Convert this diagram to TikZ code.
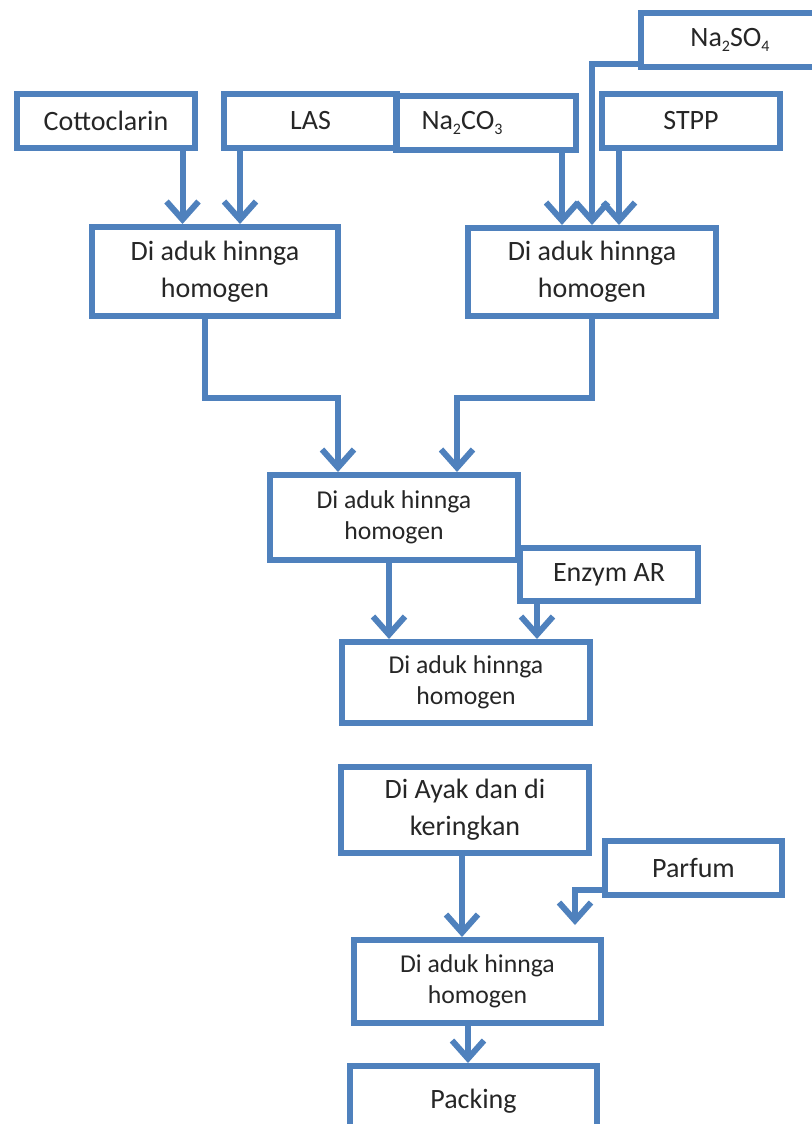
\documentclass[tikz,border=0pt]{standalone}
\usepackage{fontspec}
\setmainfont{Carlito}
\usetikzlibrary{arrows.meta,positioning}
\definecolor{flow}{HTML}{4F81BD}
\tikzset{box/.style={draw=flow,line width=3pt,minimum width=124pt,minimum height=44pt,align=center,text=black!85,font=\fontsize{14}{18.5}\selectfont},small/.style={box,font=\fontsize{12.85}{15.5}\selectfont},ingr/.style={box,minimum width=89pt,minimum height=27pt},edge/.style={draw=flow,line width=3pt,-{Straight Barb[length=9pt,width=16pt]}}}
\newcommand{\sub}[1]{\raisebox{-0.35ex}{\fontsize{8}{8}\selectfont #1}}

\begin{document}
\begin{tikzpicture}[x=0.5pt,y=-0.5pt]
\useasboundingbox (0,0) rectangle (812,1124);
% bahan baku
\node[ingr] (so4) at (730,40) {Na\sub{2}SO\sub{4}};\node[ingr] (cotto) at (106,121) {Cottoclarin};\node[ingr,minimum width=86.5pt] (las) at (310.5,121) {LAS};\node[ingr,minimum width=90pt,text width=64pt,align=left,inner xsep=13pt] (soda) at (485.5,123) {Na\sub{2}CO\sub{3}};\node[ingr] (stpp) at (691,121) {STPP};
% proses pencampuran
\node[box,minimum width=123pt,minimum height=44.5pt] (mixA) at (215,271.5) {Di aduk hinnga\\homogen};\node[box] (mixB) at (592,272) {Di aduk hinnga\\homogen};\node[small,minimum height=42.5pt] (mixC) at (394,517.5) {Di aduk hinnga\\homogen};\node[ingr,minimum height=26.5pt] (enzym) at (609,574.5) {Enzym AR};\node[small,minimum height=40.5pt] (mixD) at (466,682.5) {Di aduk hinnga\\homogen};
\node[box,minimum height=43pt] (ayak) at (465,810) {Di Ayak dan di\\keringkan};\node[ingr,minimum width=88.5pt] (parfum) at (693.5,868) {Parfum};\node[small,minimum width=123.5pt,minimum height=41.5pt] (mixE) at (477.5,981.5) {Di aduk hinnga\\homogen};\node[box,minimum width=123.5pt,minimum height=35pt] (pack) at (473.5,1101) {Packing};
% aliran
\draw[edge] ([xshift=38.25pt]cotto.south) -- ([xshift=38.25pt]cotto.south |- mixA.north);\draw[edge] ([xshift=-35.25pt]las.south) -- ([xshift=-35.25pt]las.south |- mixA.north);\draw[edge] ([xshift=38.25pt]soda.south) -- ([xshift=38.25pt]soda.south |- mixB.north);\draw[edge] ([yshift=-12pt]so4.west) -| (mixB.north);\draw[edge] ([xshift=-36pt]stpp.south) -- ([xshift=-36pt]stpp.south |- mixB.north);
\draw[edge] ([xshift=-5pt]mixA.south) -- ++(0,-39.5pt) -| ([xshift=-28pt]mixC.north);\draw[edge] (mixB.south) -- ++(0,-39.5pt) -| ([xshift=31.5pt]mixC.north);
\draw[edge] ([xshift=-2.5pt]mixC.south) -- ([xshift=-2.5pt]mixC.south |- mixD.north);\draw[edge] ([xshift=-36pt]enzym.south) -- ([xshift=-36pt]enzym.south |- mixD.north);
\draw[edge] ([xshift=-1.5pt]ayak.south) -- ([xshift=-1.5pt]ayak.south |- mixE.north);\draw[edge,shorten >=6pt] ([yshift=-11pt]parfum.west) -| ([xshift=48.75pt]mixE.north);\draw[edge] ([xshift=-4.75pt]mixE.south) -- ([xshift=-4.75pt]mixE.south |- pack.north);
\end{tikzpicture}
\end{document}
